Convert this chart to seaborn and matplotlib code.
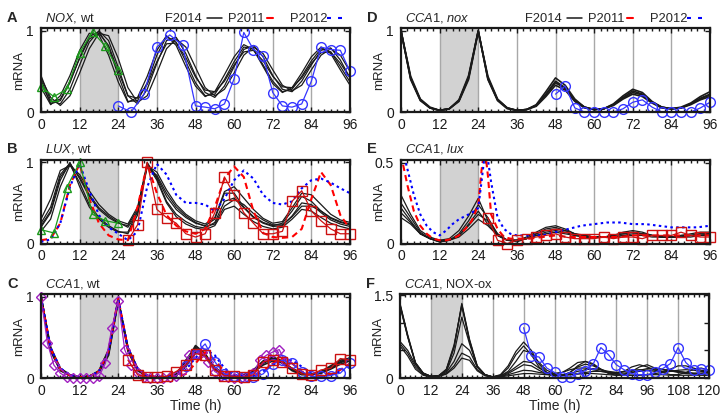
import matplotlib
matplotlib.use("Agg")
import matplotlib.pyplot as plt
from matplotlib.lines import Line2D
import seaborn as sns

# ---------------- data ----------------
T96 = list(range(0, 97, 3))
T120 = list(range(0, 121, 3))
T27 = list(range(27, 97, 3))

# Panel A: NOX, wt
A_K1 = [0.40,0.10,0.14,0.36,0.67,0.93,0.99,0.80,0.45,0.13,0.14,0.36,0.70,0.93,0.86,0.62,0.36,0.20,0.22,0.40,0.62,0.80,0.78,0.58,0.38,0.25,0.28,0.44,0.63,0.78,0.74,0.56,0.37]
A_K2 = [0.45,0.14,0.10,0.28,0.58,0.86,1.00,0.88,0.55,0.20,0.10,0.28,0.60,0.88,0.92,0.72,0.45,0.24,0.18,0.32,0.56,0.77,0.82,0.68,0.45,0.28,0.25,0.38,0.58,0.76,0.79,0.64,0.42]
A_K3 = [0.35,0.12,0.16,0.38,0.66,0.90,0.97,0.82,0.50,0.20,0.17,0.34,0.62,0.84,0.85,0.67,0.43,0.27,0.25,0.38,0.58,0.74,0.76,0.63,0.44,0.31,0.30,0.42,0.60,0.73,0.74,0.60,0.42]
A_K4 = [0.30,0.09,0.20,0.45,0.76,0.97,0.95,0.70,0.37,0.12,0.18,0.44,0.76,0.94,0.82,0.56,0.32,0.19,0.25,0.46,0.68,0.83,0.77,0.56,0.35,0.24,0.30,0.48,0.68,0.80,0.72,0.52,0.33]
A_K5 = [0.42,0.18,0.08,0.20,0.48,0.78,0.97,0.94,0.66,0.30,0.12,0.20,0.48,0.78,0.90,0.80,0.55,0.30,0.20,0.28,0.48,0.70,0.80,0.72,0.52,0.33,0.26,0.33,0.52,0.70,0.78,0.70,0.50]
A_TRI_T = [0, 4, 8, 12, 16, 20, 24]
A_TRI = [0.31, 0.19, 0.28, 0.73, 0.99, 0.81, 0.52]
A_CIR_T = [24,28,32,36,40,44,48,51,54,57,60,63,66,69,72,75,78,81,84,87,90,93,96]
A_CIR = [0.075,0.0,0.22,0.80,0.95,0.82,0.075,0.06,0.04,0.10,0.41,0.98,0.77,0.69,0.24,0.075,0.06,0.10,0.38,0.80,0.77,0.76,0.50]

# Panel B: LUX, wt
B_K1 = [0.25,0.45,0.85,0.99,0.80,0.58,0.42,0.32,0.25,0.22,0.42,0.98,0.82,0.58,0.42,0.32,0.25,0.22,0.30,0.62,0.62,0.45,0.33,0.26,0.22,0.25,0.40,0.58,0.52,0.40,0.31,0.26,0.23]
B_K2 = [0.15,0.30,0.70,0.97,0.75,0.48,0.32,0.22,0.15,0.12,0.35,0.97,0.78,0.50,0.33,0.24,0.19,0.17,0.22,0.42,0.46,0.36,0.27,0.21,0.18,0.20,0.30,0.42,0.40,0.32,0.25,0.21,0.18]
B_K3 = [0.30,0.55,0.90,0.96,0.85,0.65,0.48,0.36,0.28,0.24,0.45,0.96,0.88,0.66,0.48,0.36,0.28,0.24,0.32,0.64,0.70,0.56,0.42,0.31,0.25,0.27,0.44,0.62,0.60,0.48,0.36,0.29,0.26]
B_K4 = [0.20,0.38,0.78,1.00,0.70,0.45,0.30,0.20,0.14,0.14,0.40,1.00,0.80,0.52,0.36,0.27,0.21,0.19,0.26,0.52,0.56,0.44,0.32,0.25,0.21,0.22,0.34,0.50,0.48,0.38,0.29,0.24,0.21]
B_K5 = [0.22,0.40,0.82,0.98,0.82,0.60,0.44,0.34,0.26,0.20,0.38,0.94,0.84,0.62,0.45,0.34,0.26,0.21,0.24,0.46,0.54,0.48,0.37,0.29,0.23,0.23,0.33,0.46,0.46,0.40,0.32,0.27,0.24]
B_RED = [0.04,0.06,0.25,0.72,0.98,0.55,0.25,0.10,0.05,0.04,0.45,0.98,0.62,0.35,0.22,0.15,0.12,0.18,0.45,0.80,0.95,0.82,0.40,0.13,0.08,0.07,0.08,0.18,0.55,0.88,0.72,0.35,0.18]
B_BLUE = [0.02,0.05,0.25,0.70,0.98,0.65,0.35,0.20,0.12,0.04,0.15,0.70,0.98,0.85,0.60,0.50,0.50,0.48,0.40,0.55,0.78,0.90,0.80,0.60,0.50,0.48,0.52,0.68,0.78,0.80,0.75,0.68,0.62]
B_TRI_T = [0, 4, 8, 12, 16, 20, 24]
B_TRI = [0.17, 0.13, 0.69, 1.00, 0.36, 0.28, 0.25]
B_SQ = [0.04,0.23,1.0,0.42,0.32,0.25,0.12,0.08,0.12,0.38,0.82,0.60,0.38,0.25,0.12,0.12,0.15,0.52,0.65,0.40,0.28,0.18,0.12,0.12]

# Panel C: CCA1, wt
C_K1 = [1.0,0.35,0.10,0.03,0.01,0.02,0.08,0.32,0.97,0.35,0.10,0.03,0.01,0.01,0.03,0.16,0.36,0.28,0.12,0.04,0.02,0.03,0.08,0.18,0.24,0.20,0.11,0.05,0.04,0.06,0.12,0.19,0.23]
C_K2 = [1.0,0.38,0.12,0.04,0.01,0.02,0.07,0.28,0.95,0.38,0.12,0.03,0.01,0.01,0.04,0.20,0.40,0.30,0.12,0.04,0.02,0.03,0.09,0.20,0.26,0.21,0.11,0.05,0.04,0.07,0.13,0.20,0.25]
C_K3 = [1.0,0.33,0.09,0.03,0.01,0.02,0.09,0.35,0.98,0.33,0.09,0.02,0.01,0.01,0.03,0.14,0.32,0.27,0.13,0.05,0.02,0.03,0.07,0.16,0.21,0.19,0.12,0.06,0.04,0.06,0.11,0.17,0.21]
C_K4 = [1.0,0.36,0.11,0.03,0.01,0.02,0.08,0.30,0.96,0.37,0.11,0.03,0.01,0.01,0.05,0.22,0.38,0.26,0.10,0.04,0.02,0.04,0.10,0.21,0.25,0.18,0.09,0.04,0.04,0.08,0.15,0.22,0.24]
C_RED = [1.0,0.36,0.11,0.03,0.01,0.02,0.08,0.34,0.98,0.36,0.11,0.03,0.01,0.01,0.01,0.05,0.18,0.32,0.22,0.08,0.02,0.01,0.02,0.08,0.18,0.24,0.18,0.08,0.03,0.02,0.04,0.10,0.18]
C_BLUE = [1.0,0.37,0.12,0.04,0.01,0.02,0.08,0.33,0.97,0.37,0.12,0.03,0.01,0.01,0.02,0.10,0.25,0.35,0.28,0.12,0.04,0.02,0.03,0.08,0.16,0.22,0.22,0.14,0.06,0.03,0.04,0.08,0.14]
C_CIR_T = [45,48,51,54,57,60,63,66,69,72,75,78,81,84,87,90,93,96]
C_CIR = [0.15,0.30,0.42,0.20,0.05,0.02,0.01,0.01,0.05,0.17,0.22,0.18,0.08,0.02,0.02,0.03,0.06,0.18]
C_SQ = [0.22,0.04,0.01,0.01,0.02,0.08,0.16,0.30,0.28,0.10,0.03,0.02,0.01,0.04,0.20,0.22,0.20,0.12,0.05,0.04,0.10,0.12,0.24,0.22]
C_DIA_T = list(range(0, 77, 2))
C_DIA = [1.0,0.43,0.16,0.06,0.01,0.0,0.0,0.0,0.0,0.02,0.18,0.61,0.95,0.35,0.16,0.06,0.01,0.0,0.0,0.0,
         0.01,0.03,0.10,0.28,0.30,0.32,0.20,0.08,0.03,0.01,0.0,0.0,0.01,0.06,0.22,0.28,0.32,0.35,0.20]

# Panel D: CCA1, nox
D_K1 = [1.0,0.42,0.15,0.05,0.02,0.04,0.14,0.42,1.0,0.42,0.15,0.05,0.02,0.03,0.08,0.22,0.38,0.30,0.14,0.06,0.03,0.04,0.09,0.18,0.26,0.22,0.12,0.06,0.04,0.05,0.10,0.17,0.22]
D_K2 = [1.0,0.40,0.14,0.05,0.02,0.04,0.15,0.45,1.0,0.40,0.14,0.04,0.02,0.03,0.07,0.19,0.33,0.27,0.13,0.05,0.03,0.04,0.08,0.16,0.22,0.19,0.11,0.05,0.04,0.05,0.09,0.15,0.19]
D_K3 = [1.0,0.44,0.16,0.06,0.02,0.04,0.13,0.40,0.99,0.44,0.16,0.05,0.02,0.03,0.09,0.25,0.42,0.33,0.16,0.06,0.03,0.04,0.10,0.20,0.28,0.24,0.13,0.06,0.04,0.06,0.11,0.19,0.25]
D_K4 = [1.0,0.41,0.15,0.05,0.02,0.04,0.14,0.43,1.0,0.41,0.15,0.05,0.02,0.03,0.08,0.21,0.36,0.29,0.14,0.06,0.03,0.04,0.09,0.17,0.24,0.21,0.12,0.06,0.04,0.05,0.10,0.16,0.21]
D_CIR_T = [48,51,54,57,60,63,66,69,72,75,78,81,84,87,90,93,96]
D_CIR = [0.22,0.32,0.05,0.0,0.0,0.0,0.0,0.04,0.12,0.15,0.06,0.0,0.0,0.0,0.0,0.05,0.12]

# Panel E: CCA1, lux
E_K1 = [0.30,0.18,0.08,0.04,0.02,0.03,0.08,0.17,0.28,0.14,0.05,0.02,0.02,0.04,0.07,0.10,0.11,0.09,0.06,0.05,0.04,0.04,0.05,0.07,0.08,0.07,0.05,0.04,0.04,0.05,0.06,0.07,0.07]
E_K2 = [0.22,0.14,0.06,0.03,0.01,0.02,0.05,0.12,0.20,0.12,0.05,0.02,0.02,0.03,0.06,0.08,0.09,0.08,0.06,0.05,0.04,0.04,0.05,0.06,0.07,0.06,0.05,0.04,0.04,0.05,0.05,0.06,0.06]
E_K3 = [0.16,0.12,0.06,0.03,0.02,0.02,0.04,0.09,0.15,0.11,0.05,0.02,0.02,0.03,0.05,0.06,0.07,0.06,0.05,0.04,0.04,0.04,0.04,0.05,0.05,0.05,0.04,0.04,0.04,0.04,0.04,0.05,0.05]
E_K4 = [0.25,0.16,0.07,0.03,0.01,0.02,0.06,0.14,0.24,0.16,0.06,0.02,0.01,0.03,0.06,0.09,0.10,0.08,0.06,0.04,0.04,0.04,0.05,0.06,0.07,0.06,0.05,0.04,0.04,0.04,0.05,0.06,0.06]
E_K5 = [0.19,0.13,0.06,0.03,0.01,0.02,0.05,0.11,0.18,0.14,0.06,0.02,0.02,0.03,0.05,0.07,0.08,0.07,0.05,0.04,0.04,0.04,0.04,0.05,0.06,0.06,0.05,0.04,0.04,0.04,0.05,0.05,0.06]
E_RED_T = [0,2,4,6,8,10,12,14,16,18,20,22,24,25,26,27,28,30,32,34,36,40,44,48,52,56,60,64,68,72,76,80,84,88,92,96]
E_RED = [0.55,0.36,0.20,0.11,0.06,0.03,0.02,0.02,0.03,0.05,0.09,0.14,0.24,0.45,0.60,0.42,0.18,0.09,0.04,0.03,0.03,0.03,0.04,0.05,0.04,0.04,0.04,0.04,0.04,0.05,0.05,0.05,0.05,0.05,0.05,0.05]
E_BLUE_T = [0,1,2,4,6,8,10,12,14,16,18,20,22,24,25,26,27,28,30,32,34,36,40,44,48,52,56,60,64,68,72,76,80,84,88,92,96]
E_BLUE = [0.52,0.54,0.46,0.30,0.18,0.11,0.07,0.05,0.08,0.12,0.15,0.17,0.19,0.22,0.38,0.55,0.52,0.38,0.16,0.09,0.06,0.05,0.05,0.05,0.07,0.09,0.11,0.12,0.13,0.13,0.12,0.12,0.11,0.10,0.10,0.10,0.11]
E_SQ = [0.16,0.02,0.0,0.02,0.03,0.04,0.05,0.06,0.04,0.03,0.03,0.03,0.04,0.03,0.04,0.04,0.03,0.05,0.05,0.05,0.07,0.05,0.04,0.04]

# Panel F: CCA1, NOX-ox
F_K1 = [1.35,0.78,0.28,0.09,0.03,0.04,0.14,0.55,1.35,0.70,0.22,0.06,0.02,0.06,0.22,0.48,0.65,0.50,0.25,0.10,0.05,0.05,0.08,0.12,0.15,0.17,0.15,0.12,0.10,0.09,0.10,0.12,0.14,0.15,0.15,0.14,0.12,0.10,0.09,0.09,0.10]
F_K2 = [1.33,0.76,0.27,0.09,0.03,0.04,0.15,0.57,1.33,0.68,0.21,0.06,0.02,0.05,0.18,0.42,0.58,0.42,0.20,0.08,0.04,0.05,0.10,0.20,0.25,0.22,0.16,0.10,0.07,0.07,0.10,0.14,0.17,0.18,0.16,0.13,0.10,0.08,0.07,0.08,0.09]
F_K3 = [1.30,0.74,0.26,0.08,0.03,0.04,0.16,0.60,1.30,0.66,0.20,0.05,0.02,0.04,0.12,0.30,0.50,0.45,0.28,0.14,0.08,0.10,0.18,0.28,0.30,0.24,0.15,0.09,0.08,0.12,0.20,0.24,0.20,0.14,0.12,0.16,0.22,0.22,0.18,0.14,0.12]
F_K4 = [0.62,0.45,0.20,0.06,0.02,0.03,0.08,0.22,0.45,0.38,0.15,0.05,0.02,0.03,0.06,0.10,0.14,0.13,0.10,0.08,0.08,0.10,0.15,0.18,0.18,0.15,0.12,0.10,0.10,0.12,0.14,0.15,0.14,0.12,0.11,0.12,0.14,0.15,0.14,0.12,0.11]
F_K5 = [0.66,0.50,0.24,0.08,0.03,0.03,0.10,0.30,0.62,0.50,0.20,0.06,0.02,0.03,0.08,0.16,0.24,0.22,0.14,0.07,0.04,0.05,0.10,0.22,0.30,0.26,0.16,0.08,0.05,0.06,0.12,0.20,0.24,0.18,0.10,0.06,0.06,0.10,0.16,0.18,0.14]
F_K6 = [1.32,0.75,0.27,0.08,0.03,0.04,0.12,0.45,1.10,0.62,0.20,0.06,0.02,0.04,0.10,0.20,0.30,0.28,0.18,0.10,0.06,0.05,0.06,0.08,0.10,0.12,0.12,0.10,0.08,0.06,0.05,0.05,0.06,0.08,0.10,0.12,0.12,0.10,0.08,0.06,0.05]
F_K7 = [0.58,0.40,0.16,0.05,0.02,0.03,0.07,0.18,0.36,0.32,0.13,0.04,0.01,0.02,0.04,0.06,0.08,0.08,0.07,0.06,0.05,0.05,0.06,0.07,0.08,0.08,0.07,0.06,0.05,0.05,0.05,0.06,0.06,0.06,0.06,0.05,0.05,0.05,0.05,0.05,0.05]
F_CIR_T = [48,51,54,57,60,63,66,69,72,75,78,81,84,87,90,93,96,99,102,105,108,111,114,117,120]
F_CIR = [0.91,0.40,0.38,0.18,0.10,0.02,0.02,0.08,0.13,0.25,0.55,0.42,0.24,0.15,0.08,0.06,0.06,0.10,0.17,0.26,0.55,0.28,0.15,0.17,0.14]

LEGEND_LABELS = ["F2014", "P2011", "P2012"]

# ---------------- style ----------------
sns.set_theme(style="white")
plt.rcParams["font.family"] = ["Liberation Sans", "DejaVu Sans"]
plt.rcParams["mathtext.fontset"] = "custom"
plt.rcParams["mathtext.it"] = "Liberation Sans:italic"
plt.rcParams["mathtext.rm"] = "Liberation Sans"

RED = "#ff0000"
BLUE = "#0000ff"
CIRC = "#3535ff"
SQC = "#cc1111"
TRIC = "#1c9a1c"
DIAC = "#a020c0"

W, H = 721, 417
fig = plt.figure(figsize=(W / 100, H / 100), dpi=100)


def add_ax(l, t, r, b):
    return fig.add_axes([l / W, 1 - b / H, (r - l) / W, (b - t) / H])


def frame(ax, xmax, ymax, yticks, ylabels, xlabel=False):
    ax.set_xlim(0, xmax)
    ax.set_ylim(0, ymax)
    ax.axvspan(12, 24, color="#d2d2d2", lw=0, zorder=0)
    for x in range(12, xmax, 12):
        ax.axvline(x, color="#a8a8a8", lw=1.0, zorder=0.5)
    ax.set_xticks(range(0, xmax + 1, 12))
    ax.set_xticks(range(0, xmax + 1, 2), minor=True)
    ax.set_yticks(yticks)
    ax.set_yticklabels(ylabels)
    ax.tick_params(which="both", direction="in", top=True, right=True,
                   bottom=True, left=True, width=1.0, colors="k", labelsize=10)
    ax.tick_params(which="major", length=3.5)
    ax.tick_params(axis="x", which="major", pad=4)
    ax.tick_params(axis="y", which="major", pad=5)
    ax.tick_params(which="minor", length=2.2)
    for s in ax.spines.values():
        s.set_linewidth(1.6)
        s.set_color("k")
        s.set_zorder(5)
    ax.set_ylabel("mRNA", fontsize=9.5)
    ax.yaxis.set_label_coords(-0.05, 0.5)
    if xlabel:
        ax.set_xlabel("Time (h)", fontsize=10, labelpad=1)
    else:
        ax.set_xlabel("")
    ax.grid(False)


def ens(ax, t, curves, lw=0.9):
    for c in curves:
        sns.lineplot(x=t, y=c, ax=ax, color="k", lw=lw, estimator=None,
                     legend=False, zorder=2)


def model(ax, t, v, color, ls):
    sns.lineplot(x=t, y=v, ax=ax, color=color, lw=1.5, linestyle=ls,
                 estimator=None, legend=False, zorder=3)


def data(ax, t, v, color, marker, ms):
    sns.lineplot(x=t, y=v, ax=ax, color=color, lw=0.9, marker=marker, ms=ms,
                 mfc="none", mec=color, mew=1.0, estimator=None, legend=False,
                 zorder=4, clip_on=False)


DASH = (0, (3, 2))
DOT = (0, (1.2, 1.6))


def header(ax_top, x_left, letter, title):
    yb = 1 - (ax_top - 6.5) / H
    fig.text((x_left - 34) / W, yb, letter, fontsize=10.5, fontweight="bold", va="baseline")
    fig.text((x_left + 4) / W, yb, title, fontsize=9.3, va="baseline")


def legend(ax_top, x_left):
    yb = 1 - (ax_top - 6.5) / H
    yl = 1 - (ax_top - 10.5) / H
    x0 = x_left - 41
    fig.text((x0 + 165) / W, yb, LEGEND_LABELS[0], fontsize=9.3, va="baseline")
    fig.add_artist(Line2D([(x0 + 207) / W, (x0 + 222) / W], [yl, yl], color="k", lw=1.1))
    fig.text((x0 + 228) / W, yb, LEGEND_LABELS[1], fontsize=9.3, va="baseline")
    fig.add_artist(Line2D([(x0 + 267) / W, (x0 + 273) / W], [yl, yl], color=RED, lw=1.5))
    fig.text((x0 + 290) / W, yb, LEGEND_LABELS[2], fontsize=9.3, va="baseline")
    fig.add_artist(Line2D([(x0 + 327) / W, (x0 + 343) / W], [yl, yl], color=BLUE, lw=1.5,
                          linestyle=(0, (1.9, 3.4))))


LX0, LX1 = 41, 350
RX0, RX1 = 401, 710
ROWS = [(28, 112), (159.5, 243.5), (294, 378)]

# ---- A ----
ax = add_ax(LX0, ROWS[0][0], LX1, ROWS[0][1])
ens(ax, T96, [A_K1, A_K2, A_K3, A_K4, A_K5])
data(ax, A_TRI_T, A_TRI, TRIC, "^", 6)
data(ax, A_CIR_T, A_CIR, CIRC, "o", 7)
frame(ax, 96, 1.035, [0, 1], ["0", "1"])
header(ROWS[0][0], LX0, "A", r"$\mathit{NOX}$, wt")
legend(ROWS[0][0], LX0)

# ---- B ----
ax = add_ax(LX0, ROWS[1][0], LX1, ROWS[1][1])
ens(ax, T96, [B_K1, B_K2, B_K3, B_K4, B_K5])
model(ax, T96, B_RED, RED, DASH)
model(ax, T96, B_BLUE, BLUE, DOT)
data(ax, B_TRI_T, B_TRI, TRIC, "^", 6)
data(ax, T27, B_SQ, SQC, "s", 6.5)
frame(ax, 96, 1.035, [0, 1], ["0", "1"])
header(ROWS[1][0], LX0, "B", r"$\mathit{LUX}$, wt")

# ---- C ----
ax = add_ax(LX0, ROWS[2][0], LX1, ROWS[2][1])
ens(ax, T96, [C_K1, C_K2, C_K3, C_K4], lw=1.2)
model(ax, T96, C_RED, RED, DASH)
model(ax, T96, C_BLUE, BLUE, DOT)
data(ax, C_DIA_T, C_DIA, DIAC, "D", 5.5)
data(ax, C_CIR_T, C_CIR, CIRC, "o", 7)
data(ax, T27, C_SQ, SQC, "s", 6.5)
frame(ax, 96, 1.035, [0, 1], ["0", "1"], xlabel=True)
header(ROWS[2][0], LX0, "C", r"$\mathit{CCA1}$, wt")

# ---- D ----
ax = add_ax(RX0, ROWS[0][0], RX1, ROWS[0][1])
ens(ax, T96, [D_K1, D_K2, D_K3, D_K4], lw=1.2)
data(ax, D_CIR_T, D_CIR, CIRC, "o", 7)
frame(ax, 96, 1.035, [0, 1], ["0", "1"])
header(ROWS[0][0], RX0, "D", r"$\mathit{CCA1}$, $\mathit{nox}$")
legend(ROWS[0][0], RX0)

# ---- E ----
ax = add_ax(RX0, ROWS[1][0], RX1, ROWS[1][1])
ens(ax, T96, [E_K1, E_K2, E_K3, E_K4, E_K5])
model(ax, E_RED_T, E_RED, RED, DASH)
model(ax, E_BLUE_T, E_BLUE, BLUE, DOT)
data(ax, T27, E_SQ, SQC, "s", 6.5)
frame(ax, 96, 0.52, [0, 0.5], ["0", "0.5"])
header(ROWS[1][0], RX0, "E", r"$\mathit{CCA1}$, $\mathit{lux}$")

# ---- F ----
ax = add_ax(RX0 - 1, ROWS[2][0], RX1 - 1, ROWS[2][1])
ens(ax, T120, [F_K1, F_K2, F_K3, F_K4, F_K5, F_K6, F_K7])
data(ax, F_CIR_T, F_CIR, CIRC, "o", 7)
frame(ax, 120, 1.52, [0, 0.5, 1.0, 1.5], ["0", "", "", "1.5"], xlabel=True)
header(ROWS[2][0], RX0 - 1, "F", r"$\mathit{CCA1}$, NOX-ox")

fig.savefig("out.png", dpi=100)
